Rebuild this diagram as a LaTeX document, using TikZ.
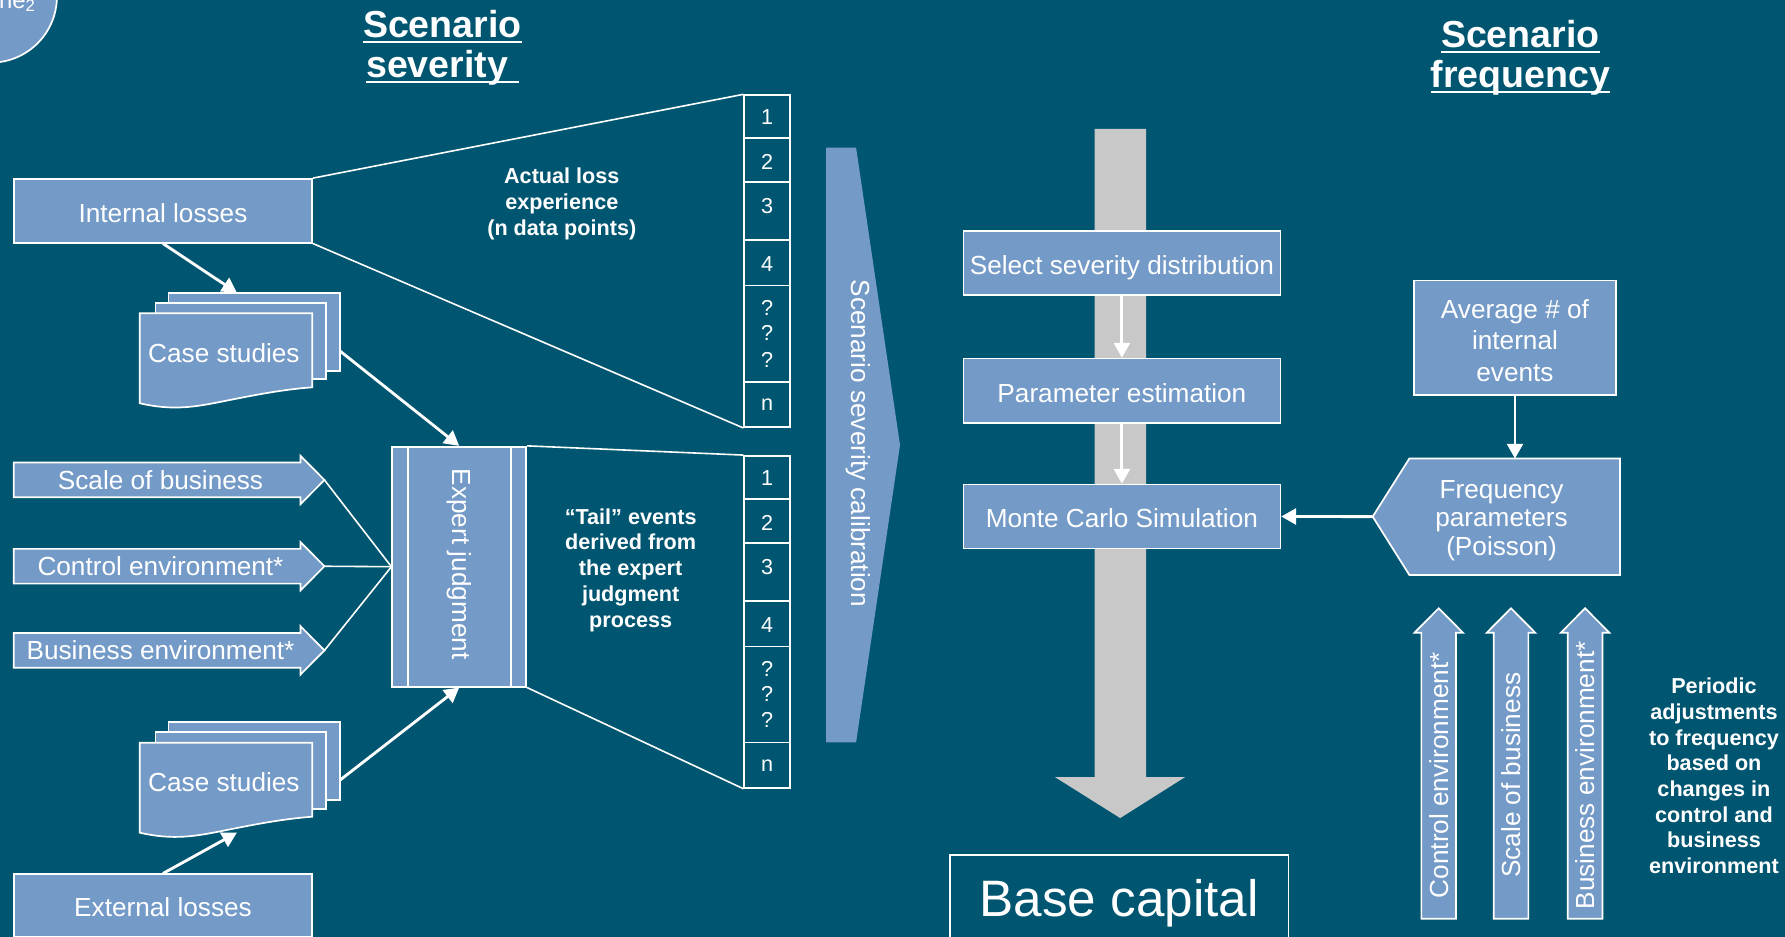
\documentclass[tikz,border=0pt]{standalone}
\usepackage{fontspec}
\setmainfont{Liberation Sans}
\usetikzlibrary{arrows.meta}

\definecolor{bgteal}{RGB}{0,85,113}
\definecolor{boxblue}{RGB}{116,154,199}
\definecolor{shaftgrey}{RGB}{200,200,200}

% underlined heading words (fixed offset, runs through descenders)
\newlength\ttlwd
\newcommand{\ttlu}[1]{\settowidth{\ttlwd}{#1}\mbox{\rlap{\rule[-5pt]{\ttlwd}{2pt}}#1}}

\begin{document}
\begin{tikzpicture}[x=1pt,y=-1pt,
    every node/.style={text=white,inner sep=0pt},
    box/.style={draw=white,line width=1.5pt,fill=boxblue,align=center,font=\fontsize{23}{28}\selectfont},
    oneline/.style={text height=21pt,text depth=1pt},
    boxtext/.style={align=center,font=\fontsize{23}{28}\selectfont},
    page/.style={draw=white,line width=1.5pt,fill=boxblue},
    barrow/.style={draw=white,line width=1.5pt,fill=boxblue},
    cellcol/.style={draw=white,line width=1.5pt,minimum width=40.2pt,minimum height=291.6pt},
    celltext/.style={font=\fontsize{19}{22}\selectfont},
    note/.style={align=center,font=\bfseries\fontsize{19}{22.6}\selectfont},
    heading/.style={anchor=base,font=\bfseries\fontsize{33}{35}\selectfont},
    link/.style={draw=white,line width=1.4pt},
    feed/.style={draw=white,line width=2.5pt,-{Triangle[width=14pt,length=13pt]}},
    pics/docstack/.style={code={
        \draw[page] (25.2,-18.1) rectangle (175.8,50.4);
        \draw[page] (13.8,-9.3) rectangle (163.7,58);
        \draw[page] (0,0) -- (151.6,0) -- (151.6,65)
            .. controls (125,67) and (100,72) .. (75,77)
            .. controls (50,82) and (30,86) .. (0,79) -- cycle;
        \node[boxtext] (-front) at (74,35) {Case studies};
        \coordinate (-top) at (85.4,-18.1);
        \coordinate (-bot) at (85.4,79);
        \coordinate (-right) at (175.8,33);
    }}
  ]
  \useasboundingbox (0,0) rectangle (1568,823);
  \clip (0,0) rectangle (1568,823);
  \fill[bgteal] (0,0) rectangle (1568,823);

  % corner tag
  \node[page,circle,minimum size=116pt] (tag) at (-8,-3) {};
  \node[anchor=base west,font=\fontsize{21}{24}\selectfont] (tagtext) at (-1,7.3) {ne\textsubscript{2}};

  % headings
  \node[heading] (sevt1) at (388.6,33.2) {\ttlu{Scenario}};
  \node[heading] (sevt2) at (388.6,67.8) {\ttlu{severity\ }};
  \node[heading] (frqt1) at (1335.5,41.6) {\ttlu{Scenario}};
  \node[heading] (frqt2) at (1335.5,76.9) {\ttlu{frequency}};

  % grey flow arrow and calibration chevron
  \fill[shaftgrey] (961.6,113.3) -- (1006.7,113.3) -- (1006.7,682.6) -- (1041,682.6)
    -- (984,718.6) -- (926.7,682.6) -- (961.6,682.6) -- cycle;
  \fill[boxblue] (725.6,129.6) -- (752,129.6) -- (790.6,390.9) -- (752,652.2) -- (725.6,652.2) -- cycle;
  \node[boxtext,rotate=-90] (calib) at (754,389.5) {Scenario severity calibration};

  % loss data sources
  \node[box,oneline,minimum width=262pt,minimum height=56pt] (inl) at (143.2,185.2) {Internal losses};
  \node[box,oneline,minimum width=262pt,minimum height=54.8pt] (exl) at (143.2,795.4) {External losses};
  \pic (cs1) at (122.7,275.2) {docstack};
  \pic (cs2) at (122.7,652.4) {docstack};

  % expert judgment
  \node[box,minimum width=117.6pt,minimum height=210.8pt] (ej) at (403.4,497.8) {};
  \draw[link] ([xshift=14.4pt]ej.north west) -- ([xshift=14.4pt]ej.south west);
  \draw[link] ([xshift=-14.1pt]ej.north east) -- ([xshift=-14.1pt]ej.south east);
  \node[boxtext,rotate=-90] (ejtext) at (403.2,495.6) {Expert judgment};

  \foreach \lab/\yy [count=\i] in {Scale of business/421.6,Control environment*/497.4,Business environment*/571.3}{
    \draw[barrow] (12,\yy-15.25) -- (264,\yy-15.25) -- (264,\yy-21.2) -- (285,\yy)
      -- (264,\yy+21.2) -- (264,\yy+15.25) -- (12,\yy+15.25) -- cycle;
    \node[boxtext] (drv\i) at (141,\yy) {\lab};
    \coordinate (drvtip\i) at (285,\yy);
    \draw[link] (drvtip\i) -- (ej.west);
  }

  \draw[feed] (inl.south) -- (cs1-top);
  \draw[feed] (cs1-right) -- (ej.north);
  \draw[feed] (exl.north) -- (cs2-bot);
  \draw[feed] (cs2-right) -- (ej.south);

  % data point columns
  \node[cellcol] (ucol) at (673.9,229.4) {};
  \node[cellcol] (lcol) at (673.9,546.3) {};
  \foreach \c in {ucol,lcol}{
    \foreach \d in {38.5,77,128,168,252.6}
      \draw[link] ([yshift=-\d pt]\c.north west) -- ([yshift=-\d pt]\c.north east);
    \foreach \lab/\d [count=\i] in {1/20,2/59.4,3/98.2,4/149.2,?/188,?/210,?/233,n/273}
      \node[celltext] (\c-\i) at ([yshift=-\d pt]\c.north) {\lab};
  }
  \draw[link] (inl.north east) -- (ucol.north west);
  \draw[link] (inl.south east) -- (ucol.south west);
  \draw[link] (ej.north east) -- (lcol.north west);
  \draw[link] (ej.south east) -- (lcol.south west);

  \node[note] (actual) at (493.5,179.2) {Actual loss\\experience\\(n data points)};
  \node[note] (tail) at (554,500.8) {“Tail” events\\derived from\\the expert\\judgment\\process};

  % severity modelling steps
  \node[box,oneline,minimum width=278.5pt,minimum height=56.5pt] (sel) at (985.5,230.9) {Select severity distribution};
  \node[box,oneline,minimum width=278.5pt,minimum height=56.5pt] (par) at (985.5,343.2) {Parameter estimation};
  \node[box,oneline,minimum width=278.5pt,minimum height=56pt] (mc) at (985.5,453.7) {Monte Carlo Simulation};
  \draw[feed] (sel.south) -- (par.north);
  \draw[feed] (par.south) -- (mc.north);

  \node[draw=white,line width=1.5pt,minimum width=297.5pt,minimum height=85.4pt,
    font=\fontsize{45}{50}\selectfont] (base) at (983,793.5) {Base capital};

  % frequency side
  \node[box,minimum width=178pt,minimum height=100.6pt] (avg) at (1330.8,296.7) {};
  \node[boxtext] (avgtext) at (1330.8,299.2) {Average \# of\\internal\\events};
  \draw[page] (1205.8,453.8) -- (1238,402.8) -- (1423,402.8) -- (1423,505) -- (1238,505) -- cycle;
  \coordinate (freqtip) at (1205.8,453.8);
  \coordinate (freqtop) at (1330.8,402.8);
  \node[align=center,font=\fontsize{23}{25}\selectfont] (freq) at (1319,457) {Frequency\\parameters\\(Poisson)};
  \draw[feed] (avg.south) -- (freqtop);
  \draw[feed] (freqtip) -- (mc.east);

  \foreach \lab/\xx [count=\i] in {Control environment*/1263.8,Scale of business/1327.3,Business environment*/1392.4}{
    \draw[barrow] (\xx-15.25,807) -- (\xx-15.25,555.8) -- (\xx-21.3,555.8) -- (\xx,534.3)
      -- (\xx+21.3,555.8) -- (\xx+15.25,555.8) -- (\xx+15.25,807) -- cycle;
    \node[boxtext,rotate=90] (adj\i) at (\xx,681) {\lab};
  }
  \node[note] (periodic) at (1505.6,681.6) {Periodic\\adjustments\\to frequency\\based on\\changes in\\control and\\business\\environment};
\end{tikzpicture}
\end{document}
